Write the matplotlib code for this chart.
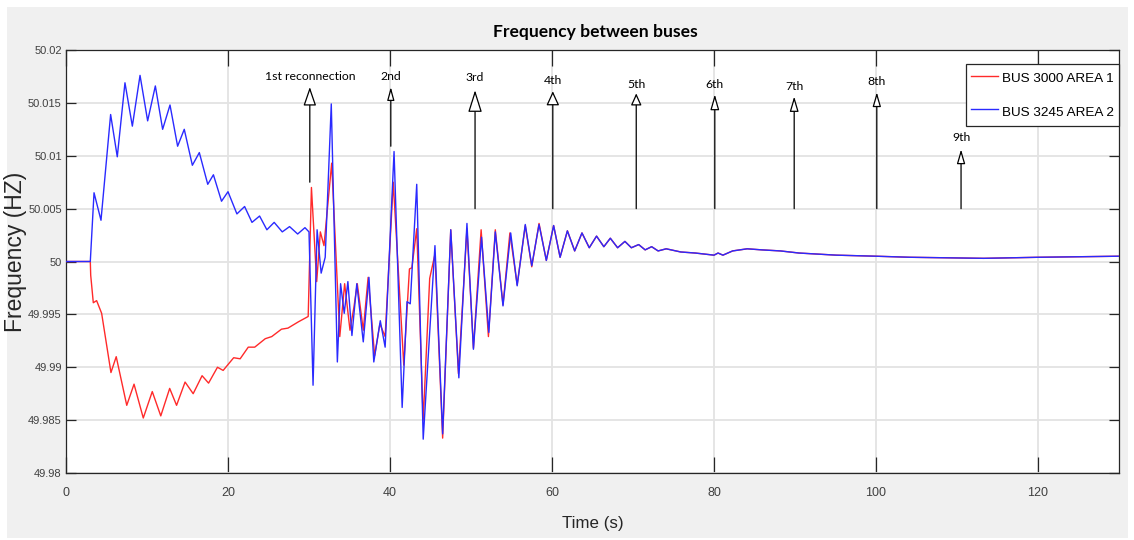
import matplotlib
matplotlib.use("Agg")
import matplotlib.pyplot as plt
from matplotlib.patches import Rectangle

# ---------------- data ----------------
t_area2 = [0, 3.0, 3.46, 4.32, 5.51, 6.33, 7.28, 8.19, 9.14, 10.08, 11.03, 11.93,
           12.84, 13.78, 14.6, 15.6, 16.46, 17.5, 18.2, 19.2, 20.0, 21.1, 22.05,
           22.96, 23.9, 24.8, 25.7, 26.7, 27.6, 28.6, 29.5, 30.0, 30.5, 31.0, 31.5,
           32.0, 32.75, 33.5, 33.9, 34.35, 34.8, 35.3, 35.9, 36.7, 37.4, 38.0, 38.8,
           39.4, 40.5, 41.5, 42.1, 42.5, 43.3, 44.1, 45.55, 46.5, 47.5, 48.5, 49.5,
           50.3, 51.3, 52.2, 53.0, 53.95, 54.9, 55.7, 56.7, 57.5, 58.4, 59.3, 60.2,
           61.0, 61.9, 62.8, 63.7, 64.6, 65.5, 66.4, 67.2, 68.1, 69.0, 69.8, 70.7,
           71.5, 72.3, 73.1, 74.1, 75.9, 77.7, 80.0, 80.5, 81.1, 82.3, 84.1, 85.9,
           88.2, 90.5, 95.1, 100.0, 104.2, 113.3, 120.1, 130.0]
f_area2 = [50.0, 50.0, 50.0065, 50.0039, 50.0139, 50.0099, 50.0169, 50.0128, 50.0176,
           50.0133, 50.0166, 50.0125, 50.0148, 50.0109, 50.0125, 50.0091, 50.0103,
           50.0073, 50.0082, 50.0057, 50.0066, 50.0045, 50.0052, 50.0037, 50.0043,
           50.0030, 50.0037, 50.0028, 50.0033, 50.0026, 50.0032, 50.0028, 49.9883,
           50.0030, 49.9989, 50.0004, 50.0149, 49.9905, 49.9979, 49.9951, 49.9981,
           49.9930, 49.9979, 49.9924, 49.9985, 49.9905, 49.9944, 49.9919, 50.0104,
           49.9862, 49.9962, 49.9960, 50.0073, 49.9832, 50.0015, 49.9837, 50.0030,
           49.9890, 50.0036, 49.9917, 50.0023, 49.9933, 50.0028, 49.9958, 50.0027,
           49.9977, 50.0035, 49.9996, 50.0035, 50.0001, 50.0034, 50.0004, 50.0029,
           50.0010, 50.0027, 50.0013, 50.0024, 50.0014, 50.0022, 50.0013, 50.0019,
           50.0013, 50.0016, 50.0011, 50.0014, 50.0010, 50.0012, 50.0009, 50.0008,
           50.0006, 50.0008, 50.0006, 50.0010, 50.0012, 50.0011, 50.0010, 50.0008,
           50.0006, 50.0005, 50.0004, 50.0003, 50.0004, 50.0005]

t_area1 = [0, 3.0, 3.05, 3.37, 3.78, 4.4, 5.55, 6.2, 7.5, 8.4, 9.54, 10.65, 11.7,
           12.8, 13.65, 14.7, 15.7, 16.8, 17.6, 18.7, 19.4, 20.7, 21.5, 22.5, 23.3,
           24.6, 25.4, 26.6, 27.4, 28.7, 29.9, 30.3, 30.95, 31.4, 31.85, 32.8, 33.8,
           34.4, 35.06, 35.55, 35.96, 36.7, 37.3, 38.1, 38.75, 39.4, 40.4, 41.7, 42.4,
           42.7, 43.3, 44.1, 44.9, 45.55, 46.5, 47.5, 48.45, 49.5, 50.3, 51.25, 52.15,
           53.0, 53.95, 54.8, 55.7, 56.7, 57.5, 58.4, 59.3, 60.2, 61.0, 61.9, 62.8,
           63.7, 64.6, 65.5, 66.4, 67.2, 68.1, 69.0, 69.8, 70.7, 71.5, 72.3, 73.1,
           74.1, 75.9, 77.7, 80.0, 80.5, 81.1, 82.3, 84.1, 85.9, 88.2, 90.5, 95.1,
           100.0, 104.2, 113.3, 120.1, 130.0]
f_area1 = [50.0, 50.0, 49.9987, 49.9961, 49.9963, 49.9951, 49.9895, 49.9910, 49.9864,
           49.9884, 49.9852, 49.9877, 49.9854, 49.9880, 49.9864, 49.9886, 49.9875,
           49.9892, 49.9885, 49.9900, 49.9897, 49.9909, 49.9908, 49.9919, 49.9919,
           49.9927, 49.9929, 49.9936, 49.9937, 49.9943, 49.9948, 50.0070, 49.9981,
           50.0028, 50.0015, 50.0093, 49.9929, 49.9979, 49.9935, 49.9957, 49.9979,
           49.9935, 49.9985, 49.9911, 49.9941, 49.9929, 50.0075, 49.9902, 49.9993,
           49.9994, 50.0031, 49.9850, 49.9984, 50.0007, 49.9833, 50.0030, 49.9894,
           50.0031, 49.9918, 50.0030, 49.9929, 50.0030, 49.9959, 50.0027, 49.9978,
           50.0034, 49.9995, 50.0036, 50.0001, 50.0034, 50.0004, 50.0029, 50.0010,
           50.0027, 50.0013, 50.0024, 50.0014, 50.0022, 50.0013, 50.0019, 50.0013,
           50.0016, 50.0011, 50.0014, 50.0010, 50.0012, 50.0009, 50.0008, 50.0006,
           50.0008, 50.0006, 50.0010, 50.0012, 50.0011, 50.0010, 50.0008, 50.0006,
           50.0005, 50.0004, 50.0003, 50.0004, 50.0005]

series_labels = ["BUS 3000 AREA 1", "BUS 3245 AREA 2"]

# reconnection events
event_labels = ["1st reconnection", "2nd", "3rd", "4th", "5th", "6th", "7th", "8th", "9th"]
event_times = [30.1, 40.1, 50.5, 60.1, 70.4, 80.1, 89.9, 100.1, 110.5]
arrow_base = [50.0075, 50.0109, 50.0050, 50.0050, 50.0050, 50.0050, 50.0050, 50.0050, 50.0050]
arrow_tip = [50.0165, 50.0165, 50.0162, 50.0161, 50.0159, 50.0158, 50.0156, 50.0160, 50.0106]
label_y = [50.0175, 50.0175, 50.01736, 50.01716, 50.01674, 50.01674, 50.01654, 50.01698, 50.01171]
head_w_px = [11, 6, 12, 11, 9, 7.5, 7.5, 7, 7]
head_h_px = [16, 11, 19, 12, 10, 13, 12.6, 12, 12]

xticks = [0, 20, 40, 60, 80, 100, 120]
xtick_labels = ["0", "20", "40", "60", "80", "100", "120"]
yticks = [49.98, 49.985, 49.99, 49.995, 50.0, 50.005, 50.01, 50.015, 50.02]
ytick_labels = ["49.98", "49.985", "49.99", "49.995", "50", "50.005", "50.01", "50.015", "50.02"]

# ---------------- fonts ----------------
REG = "Liberation Sans"
HUM = "Lato"

# ---------------- figure ----------------
W, H = 1134, 540
fig = plt.figure(figsize=(W / 100, H / 100), dpi=100, facecolor="white")
fig.patches.append(Rectangle((7 / W, 2 / H), (1128 - 7) / W, (538 - 7) / H,
                             transform=fig.transFigure, facecolor="#f0f0f0",
                             edgecolor="none", zorder=-10))

L, R, T, B = 66, 1119, 50, 473
ax = fig.add_axes([L / W, 1 - B / H, (R - L) / W, (B - T) / H])
ax.set_facecolor("white")

ax.plot(t_area1, f_area1, color="#ff2a2a", lw=1.0, label=series_labels[0], zorder=3)
ax.plot(t_area2, f_area2, color="#2a2aff", lw=1.0, label=series_labels[1], zorder=4)

ax.set_xlim(0, 130)
ax.set_ylim(49.98, 50.02)
ax.set_xticks(xticks)
ax.set_xticklabels(xtick_labels)
ax.set_yticks(yticks)
ax.set_yticklabels(ytick_labels)
ax.grid(True, color="#e3e3e3", lw=1.3, zorder=0)
ax.set_axisbelow(True)
for s in ax.spines.values():
    s.set_color("#262626")
    s.set_linewidth(0.9)
ax.tick_params(axis="both", direction="in", top=True, right=True, colors="#262626",
               labelcolor="#404040", width=0.9)
ax.tick_params(axis="x", length=11.5, pad=10, labelsize=9)
ax.tick_params(axis="y", length=7.5, pad=3, labelsize=8)
for lab in ax.get_xticklabels() + ax.get_yticklabels():
    lab.set_fontfamily(REG)

ax.set_xlabel("Time (s)", fontsize=12.2, family=REG, color="#262626")
ax.xaxis.set_label_coords(0.5, -0.101)
ax.set_ylabel("Frequency (HZ)", fontsize=16.5, family=REG, color="#262626")
ax.yaxis.set_label_coords(-0.037, 0.522)
ax.set_title("Frequency between buses", fontsize=12.6, fontweight="bold", family=HUM,
             color="black", pad=9, x=0.503)

# arrows + labels
for i, lab in enumerate(event_labels):
    hw = head_w_px[i] / 2 * 0.72
    hl = head_h_px[i] * 0.72
    ax.annotate("", xy=(event_times[i], arrow_tip[i]), xytext=(event_times[i], arrow_base[i]),
                arrowprops=dict(arrowstyle=f"-|>,head_length={hl},head_width={hw}",
                                mutation_scale=1, fc="white", ec="black", lw=0.9,
                                shrinkA=0, shrinkB=0), zorder=5)
    ax.text(event_times[i], label_y[i], lab, ha="center", va="center", fontsize=8.8,
            family=HUM, color="black", zorder=6)

leg = ax.legend(loc="upper right", bbox_to_anchor=(1.0, 1 - 14 / 423), borderaxespad=0,
                fancybox=False, framealpha=1, edgecolor="#262626",
                prop={"family": REG, "size": 9.7}, handlelength=2.0, handleheight=1.6,
                handletextpad=0.25, borderpad=0.4, labelspacing=1.2)
leg.get_frame().set_linewidth(0.9)
leg.set_zorder(10)

fig.savefig("out.png", dpi=100, facecolor=fig.get_facecolor())
